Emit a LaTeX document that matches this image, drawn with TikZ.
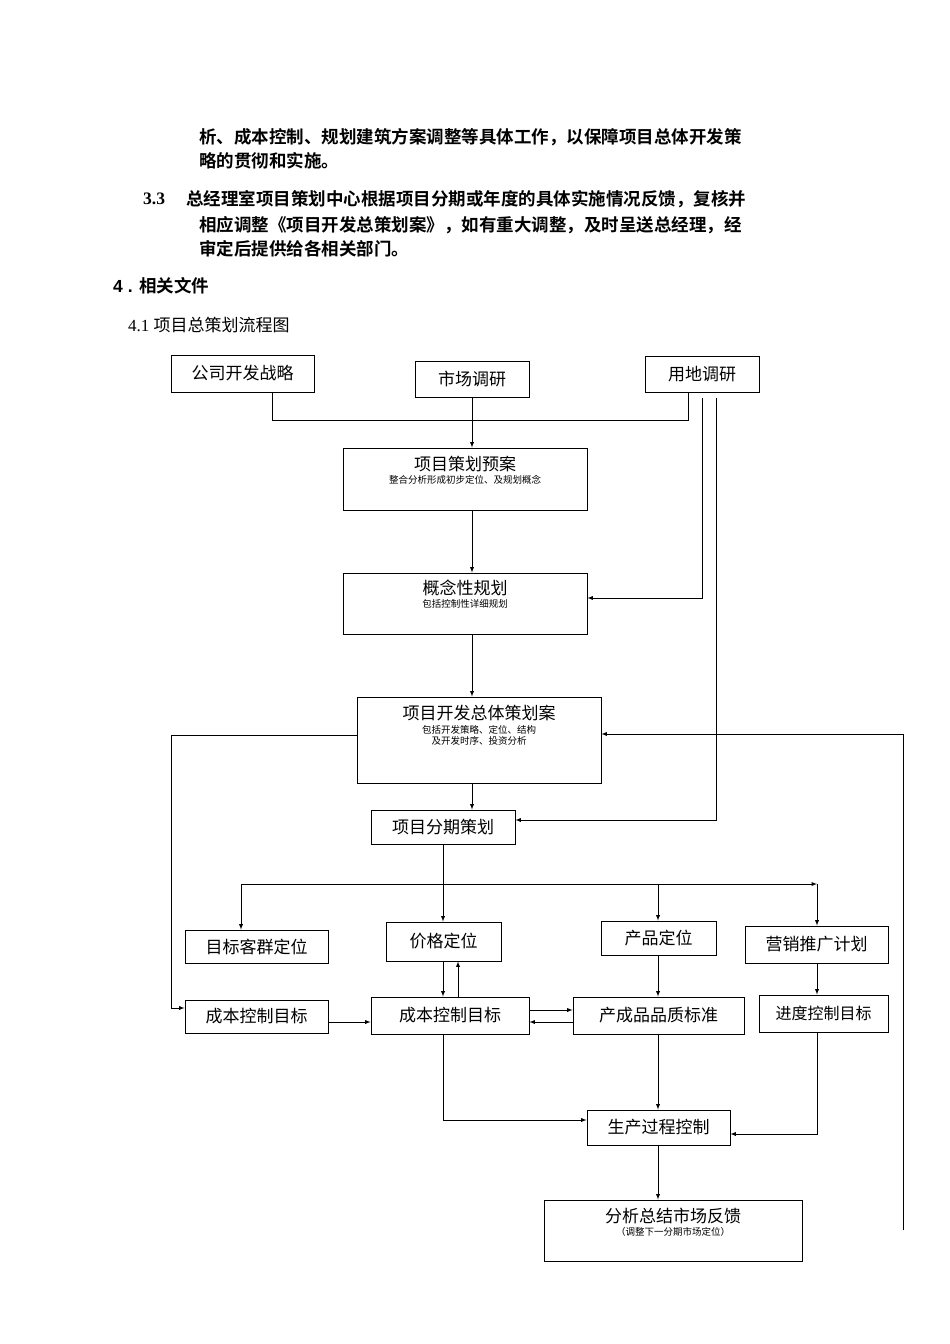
\documentclass[tikz,border=0pt]{standalone}
\usepackage{fontspec}
\setmainfont{Liberation Serif}
\newfontfamily\cjk{Noto Sans CJK SC}
\newfontfamily\cjkb{Noto Sans CJK SC}[BoldFont={Noto Sans CJK SC Bold}]
\begin{document}
\begin{tikzpicture}[x=1pt,y=-1pt,
  box/.style={draw,line width=0.9pt,inner sep=0pt,font=\cjk\fontsize{17}{19}\selectfont},
  sub/.style={font=\cjk\fontsize{9.5}{11}\selectfont,align=center},
  ln/.style={line width=0.9pt},
  ar/.style={line width=0.9pt,-latex},
  para/.style={anchor=west,inner sep=0pt,font=\cjkb\bfseries\fontsize{17.5}{20}\selectfont}]
\useasboundingbox (0,0) rectangle (950,1344);
\fill[white] (0,0) rectangle (950,1344);
% text
\node[para] (t1) at (199,137) {析、成本控制、规划建筑方案调整等具体工作，以保障项目总体开发策};
\node[para] (t2) at (199,161) {略的贯彻和实施。};
\node[para] (t3n) at (143,199) {\fontspec{Liberation Serif}\bfseries 3.3};
\node[para] (t3) at (186,199) {总经理室项目策划中心根据项目分期或年度的具体实施情况反馈，复核并};
\node[para] (t4) at (199,225) {相应调整《项目开发总策划案》，如有重大调整，及时呈送总经理，经};
\node[para] (t5) at (199,249) {审定后提供给各相关部门。};
\node[para] (t6) at (113,286) {\fontspec{Liberation Sans}\bfseries 4 . \cjkb\bfseries 相关文件};
\node[anchor=west,inner sep=0pt,font=\fontsize{17}{19}\selectfont] (t7) at (128,325) {4.1 {\cjk 项目总策划流程图}};
% boxes
\node[box,minimum width=143,minimum height=37] (gs) at (242.5,373.5) {公司开发战略};
\node[box,minimum width=114,minimum height=36] (sc) at (472,379) {市场调研};
\node[box,minimum width=114,minimum height=36] (yd) at (702,374) {用地调研};
\node[box,minimum width=244,minimum height=62] (ya) at (465,479) {};
\node at (465,464) [font=\cjk\fontsize{17}{19}\selectfont] {项目策划预案};
\node[sub] at (465,480) {整合分析形成初步定位、及规划概念};
\node[box,minimum width=244,minimum height=61] (gn) at (465,603.5) {};
\node at (465,588) [font=\cjk\fontsize{17}{19}\selectfont] {概念性规划};
\node[sub] at (465,604) {包括控制性详细规划};
\node[box,minimum width=244,minimum height=86] (zt) at (479,740) {};
\node at (479,713) [font=\cjk\fontsize{17}{19}\selectfont] {项目开发总体策划案};
\node[sub] at (479,735) {包括开发策略、定位、结构\\及开发时序、投资分析};
\node[box,minimum width=144,minimum height=34] (fq) at (443,827) {项目分期策划};
\node[box,minimum width=143,minimum height=33] (kq) at (256.5,946.5) {目标客群定位};
\node[box,minimum width=115,minimum height=39] (jg) at (443.5,941.5) {价格定位};
\node[box,minimum width=115,minimum height=34] (cp) at (658.5,938) {产品定位};
\node[box,minimum width=143,minimum height=37] (yx) at (816.5,944.5) {营销推广计划};
\node[box,minimum width=143,minimum height=33] (cbl) at (256.5,1016.5) {成本控制目标};
\node[box,minimum width=158,minimum height=37] (cbm) at (450,1015.5) {成本控制目标};
\node[box,minimum width=171,minimum height=37] (pz) at (658.5,1015.5) {产成品品质标准};
\node[box,minimum width=129,minimum height=37,font=\cjk\fontsize{16}{18}\selectfont] (jd) at (823.5,1013.5) {进度控制目标};
\node[box,minimum width=143,minimum height=35] (sccz) at (658.5,1127.5) {生产过程控制};
\node[box,minimum width=258,minimum height=61] (fx) at (673,1230.5) {};
\node at (673,1216) [font=\cjk\fontsize{17}{19}\selectfont] {分析总结市场反馈};
\node[sub] at (673,1232) {（调整下一分期市场定位）};
% connectors
\coordinate (j1) at (272,420); \coordinate (j2) at (688,420); \coordinate (j3) at (472,420);
\draw[ln] (gs.south -| j1) -- (j1) -- (j2) -- (yd.south -| j2);
\draw[ln] (sc.south) -- (j3);
\draw[ar] (j3) -- (ya.north -| j3);
\coordinate (r1) at (702,398); \coordinate (r2) at (716,398);
\draw[ar] (r1) -- (702,598) -- (gn.east |- 0,598);
\draw[ar] (r2) -- (716,820) -- (fq.east |- 0,820);
\draw[ar] (ya.south -| 472,0) -- (gn.north -| 472,0);
\draw[ar] (gn.south -| 472,0) -- (zt.north -| 472,0);
\draw[ar] (zt.south -| 472,0) -- (fq.north -| 472,0);
\coordinate (h) at (443,884);
\draw[ln] (fq.south) -- (h);
\draw[ar] (241,884) -- (817,884);
\draw[ar] (h -| 241,0) -- (kq.north -| 241,0);
\draw[ar] (h) -- (jg.north -| 443,0);
\draw[ar] (h -| 658,0) -- (cp.north -| 658,0);
\draw[ar] (h -| 817,0) -- (yx.north -| 817,0);
\draw[ar] (zt.west |- 0,735) -- (171,735) -- (171,1008) -- (cbl.west |- 0,1008);
\draw[ar] (903,1230) -- (903,734) -- (zt.east |- 0,734);
\draw[ar] (jg.south -| 443,0) -- (cbm.north -| 443,0);
\draw[ar] (cbm.north -| 458,0) -- (jg.south -| 458,0);
\draw[ar] (cbl.east |- 0,1022) -- (cbm.west |- 0,1022);
\draw[ar] (cbm.east |- 0,1010) -- (pz.west |- 0,1010);
\draw[ar] (pz.west |- 0,1022) -- (cbm.east |- 0,1022);
\draw[ar] (cp.south -| 658,0) -- (pz.north -| 658,0);
\draw[ar] (yx.south -| 817,0) -- (jd.north -| 817,0);
\draw[ar] (cbm.south -| 443,0) -- (443,1120) -- (sccz.west |- 0,1120);
\draw[ar] (pz.south -| 658,0) -- (sccz.north -| 658,0);
\draw[ar] (jd.south -| 817,0) -- (817,1134) -- (sccz.east |- 0,1134);
\draw[ar] (sccz.south -| 658,0) -- (fx.north -| 658,0);
\end{tikzpicture}
\end{document}
